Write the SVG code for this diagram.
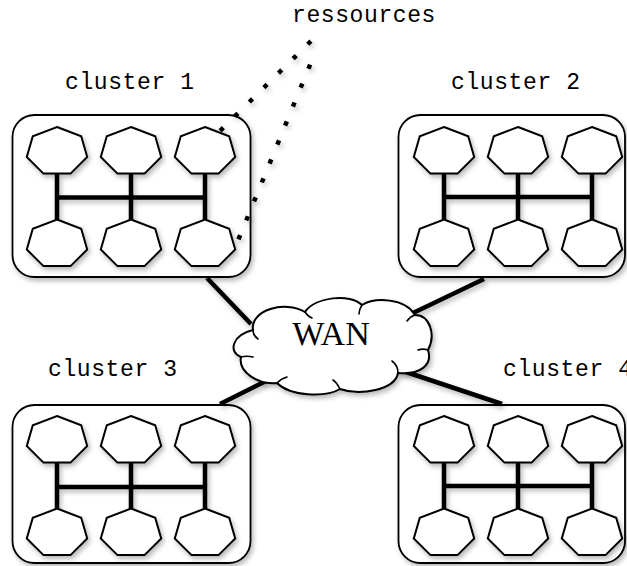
<svg xmlns="http://www.w3.org/2000/svg" xmlns:xlink="http://www.w3.org/1999/xlink" width="627" height="566" viewBox="0 0 627 566">
  <style>
    .box { fill: #ffffff; stroke: #000; stroke-width: 1.8; }
    .node { fill: #ffffff; stroke: #000; stroke-width: 2; stroke-linejoin: miter; }
    .bus { fill: none; stroke: #000; stroke-width: 4.5; }
    .link { fill: none; stroke: #000; stroke-width: 4.5; }
    .dots { fill: none; stroke: #000; stroke-width: 4.5; }
    .cloud { fill: #ffffff; stroke: #000; stroke-width: 2; }
    .curl { fill: none; stroke: #000; stroke-width: 1.6; stroke-linecap: round; }
    .label { font-family: "Liberation Mono", "Courier New", monospace; font-size: 23px; letter-spacing: 0.6px; fill: #000; }
    .wan { font-family: "Liberation Serif", "Times New Roman", serif; font-size: 34px; fill: #000; }
    .sh { filter: url(#shadow); }
  </style>
  <defs>
    <filter id="shadow" x="-20%" y="-20%" width="140%" height="140%">
      <feDropShadow dx="2" dy="3" stdDeviation="2.5" flood-color="#000" flood-opacity="0.28"/>
    </filter>
    <!-- flattened heptagon, one vertex pointing up -->
    <path id="hept" class="node" d="M0,-24.5 L24.2,-15.3 L30.2,5.5 L13.5,22.1 L-13.5,22.1 L-30.2,5.5 L-24.2,-15.3 Z"/>
  </defs>

  <rect width="627" height="566" fill="#ffffff"/>

  <!-- cluster 1 -->
  <g id="cluster1">
    <text class="label" x="65" y="89">cluster 1</text>
    <rect class="box sh" x="12.5" y="115" width="238" height="162" rx="22"/>
    <g class="sh">
      <path class="bus" d="M57,173 V220 M131,173 V220 M205,173 V220 M57,197.5 H205"/>
      <use xlink:href="#hept" x="57" y="151.5"/>
      <use xlink:href="#hept" x="131" y="151.5"/>
      <use xlink:href="#hept" x="205" y="151.5"/>
      <use xlink:href="#hept" x="57" y="244"/>
      <use xlink:href="#hept" x="131" y="244"/>
      <use xlink:href="#hept" x="205" y="244"/>
    </g>
  </g>

  <!-- cluster 2 -->
  <g id="cluster2">
    <text class="label" x="451" y="89">cluster 2</text>
    <rect class="box sh" x="398.5" y="115" width="226.5" height="162" rx="22"/>
    <g class="sh">
      <path class="bus" d="M444,173 V220 M518,173 V220 M592,173 V220 M444,197 H592"/>
      <use xlink:href="#hept" x="444" y="151.5"/>
      <use xlink:href="#hept" x="518" y="151.5"/>
      <use xlink:href="#hept" x="592" y="151.5"/>
      <use xlink:href="#hept" x="444" y="244"/>
      <use xlink:href="#hept" x="518" y="244"/>
      <use xlink:href="#hept" x="592" y="244"/>
    </g>
  </g>

  <!-- cluster 3 -->
  <g id="cluster3">
    <text class="label" x="48" y="376">cluster 3</text>
    <rect class="box sh" x="12.5" y="405" width="238" height="158" rx="22"/>
    <g class="sh">
      <path class="bus" d="M57,463 V510 M131,463 V510 M205,463 V510 M57,487 H205"/>
      <use xlink:href="#hept" x="57" y="440.5"/>
      <use xlink:href="#hept" x="131" y="440.5"/>
      <use xlink:href="#hept" x="205" y="440.5"/>
      <use xlink:href="#hept" x="57" y="533"/>
      <use xlink:href="#hept" x="131" y="533"/>
      <use xlink:href="#hept" x="205" y="533"/>
    </g>
  </g>

  <!-- cluster 4 (label runs off the right edge) -->
  <g id="cluster4">
    <text class="label" x="503" y="376">cluster 4</text>
    <rect class="box sh" x="398.5" y="405" width="226.5" height="158" rx="22"/>
    <g class="sh">
      <path class="bus" d="M444,463 V510 M518,463 V510 M592,463 V510 M444,486 H592"/>
      <use xlink:href="#hept" x="444" y="440.5"/>
      <use xlink:href="#hept" x="518" y="440.5"/>
      <use xlink:href="#hept" x="592" y="440.5"/>
      <use xlink:href="#hept" x="444" y="533"/>
      <use xlink:href="#hept" x="518" y="533"/>
      <use xlink:href="#hept" x="592" y="533"/>
    </g>
  </g>

  <!-- resources annotation label -->
  <g id="ressources">
    <text class="label" x="292" y="22">ressources</text>
  </g>

  <!-- links and pointers -->
  <g id="connectors" class="sh">
    <line class="link" x1="207" y1="278" x2="251" y2="324"/>
    <line class="link" x1="484" y1="279" x2="413" y2="313"/>
    <line class="link" x1="220" y1="404" x2="266" y2="381"/>
    <line class="link" x1="400" y1="370" x2="502" y2="404"/>
    <line class="dots" style="stroke-dasharray: 4.5 16.03" x1="310.9" y1="41.1" x2="220.1" y2="130.9"/>
    <line class="dots" style="stroke-dasharray: 4.5 15.99" x1="310.15" y1="64.6" x2="238.45" y2="239.4"/>
  </g>

  <!-- wide area network cloud -->
  <g id="wan">
    <path class="cloud sh" d="M253,330 C232,335 228,352 241,357 C238,372 258,385 277,383 C290,396 325,398 340,389 C360,396 395,390 398,373 C420,375 433,365 428,350 C436,335 430,315 415,315 C405,298 375,297 362,305 C350,293 315,297 305,312 C285,300 250,310 253,330 Z"/>
    <path class="curl" d="M253,330 C253,334 255,337 258,339 M305,312 C307,315 309,317 312,318 M362,305 C360,308 359,311 359,314 M415,315 C412,316 409,318 407,321 M428,350 C425,349 421,349 418,350 M398,373 C398,368 396,364 392,361 M340,389 C338,385 336,382 333,380 M277,383 C280,380 283,378 287,377 M241,357 C245,356 249,356 253,357"/>
    <text class="wan" x="331" y="345" text-anchor="middle">WAN</text>
  </g>
</svg>
